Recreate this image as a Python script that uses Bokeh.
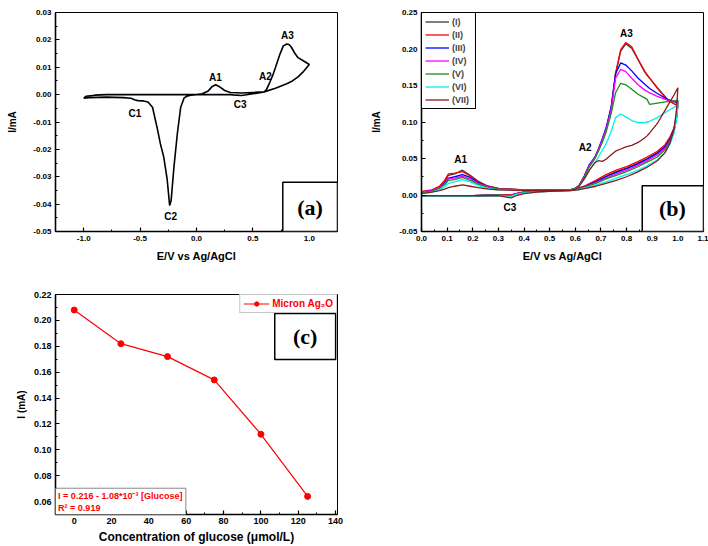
from bokeh.plotting import figure
from bokeh.layouts import column, row
from bokeh.models import Range1d, FixedTicker, PrintfTickFormatter, Label, BoxAnnotation
from bokeh.embed import file_html
from bokeh.resources import INLINE

# ---------------- Panel (a): single CV ----------------
a_fwd_x = [-1.00, -0.98, -0.90, -0.80, -0.50, -0.20, 0.00, 0.05, 0.10, 0.14, 0.17, 0.20, 0.25, 0.30,
           0.40, 0.50, 0.60, 0.62, 0.65, 0.68, 0.70, 0.74, 0.77, 0.80, 0.82, 0.84, 0.87, 0.90, 0.95, 1.00]
a_fwd_y = [-0.0013, -0.0006, -0.0002, 0.0, 0.0, 0.0, 0.0, 0.0003, 0.0012, 0.003, 0.0036, 0.003, 0.0015, 0.0008,
           0.0006, 0.0008, 0.001, 0.0018, 0.0045, 0.0075, 0.0099, 0.0148, 0.0178, 0.0185, 0.0183, 0.0174, 0.0152,
           0.0135, 0.0123, 0.011]
a_rev_x = [0.95, 0.90, 0.85, 0.80, 0.70, 0.60, 0.50, 0.40, 0.35, 0.30, 0.10, 0.00, -0.05, -0.08, -0.11, -0.14,
           -0.17, -0.20, -0.225, -0.238, -0.26, -0.29, -0.32, -0.35, -0.39, -0.43, -0.47, -0.52, -0.55, -0.58,
           -0.65, -0.80, -0.95, -1.00]
a_rev_y = [0.0085, 0.0065, 0.005, 0.004, 0.0023, 0.001, 0.0003, -0.0003, -0.0002, 0.0, 0.0, 0.0, -0.0002, -0.0005,
           -0.0012, -0.0046, -0.0143, -0.0265, -0.0387, -0.0405, -0.031, -0.0229, -0.018, -0.0119, -0.0046, -0.0027,
           -0.0023, -0.0022, -0.0019, -0.0013, -0.0011, -0.0009, -0.0011, -0.0013]
a_xticks = [-1.0, -0.5, 0.0, 0.5, 1.0]
a_xminor = [-1.25, -0.75, -0.25, 0.25, 0.75, 1.25]
a_yticks = [-0.05, -0.04, -0.03, -0.02, -0.01, 0.0, 0.01, 0.02, 0.03]
a_yminor = [-0.045, -0.035, -0.025, -0.015, -0.005, 0.005, 0.015, 0.025]

# ---------------- Panel (b): seven CVs ----------------
XF = [0.00, 0.04, 0.07, 0.09, 0.105, 0.13, 0.16, 0.19, 0.22, 0.26, 0.30, 0.40, 0.50, 0.58, 0.60, 0.615, 0.635,
      0.655, 0.675, 0.69, 0.705, 0.72, 0.74, 0.757, 0.777, 0.797, 0.82, 0.845, 0.87, 0.88, 0.89, 0.92, 0.96, 0.985, 1.00]
XR = [1.00, 0.995, 0.985, 0.97, 0.95, 0.92, 0.88, 0.84, 0.80, 0.76, 0.72, 0.68, 0.64, 0.61, 0.58, 0.50, 0.45,
      0.40, 0.37, 0.35, 0.33, 0.30, 0.20, 0.10, 0.00]

f_I = [0.004, 0.006, 0.011, 0.018, 0.027, 0.029, 0.034, 0.027, 0.019, 0.012, 0.009, 0.007, 0.007, 0.007, 0.009,
       0.013, 0.025, 0.040, 0.050, 0.061, 0.074, 0.089, 0.119, 0.165, 0.197, 0.207, 0.201, 0.185, 0.169, 0.164,
       0.160, 0.147, 0.131, 0.125, 0.122]
f_II = [0.005, 0.007, 0.012, 0.020, 0.029, 0.030, 0.032, 0.026, 0.018, 0.012, 0.009, 0.007, 0.007, 0.007, 0.009,
        0.013, 0.026, 0.041, 0.050, 0.062, 0.075, 0.090, 0.120, 0.167, 0.199, 0.209, 0.203, 0.186, 0.170, 0.165,
        0.160, 0.146, 0.130, 0.125, 0.123]
f_III = [0.004, 0.006, 0.010, 0.016, 0.023, 0.025, 0.028, 0.024, 0.017, 0.011, 0.008, 0.007, 0.007, 0.007, 0.009,
         0.013, 0.026, 0.042, 0.051, 0.063, 0.077, 0.092, 0.121, 0.166, 0.181, 0.178, 0.170, 0.160, 0.152, 0.149,
         0.146, 0.139, 0.131, 0.128, 0.126]
f_IV = [0.004, 0.006, 0.010, 0.015, 0.022, 0.023, 0.026, 0.022, 0.016, 0.011, 0.008, 0.007, 0.007, 0.007, 0.009,
        0.013, 0.025, 0.041, 0.050, 0.062, 0.075, 0.090, 0.117, 0.160, 0.172, 0.169, 0.160, 0.151, 0.144, 0.142,
        0.140, 0.135, 0.130, 0.129, 0.128]
f_V = [0.003, 0.005, 0.009, 0.014, 0.020, 0.021, 0.024, 0.020, 0.015, 0.010, 0.008, 0.007, 0.007, 0.007, 0.009,
       0.013, 0.024, 0.039, 0.049, 0.060, 0.072, 0.086, 0.112, 0.140, 0.153, 0.151, 0.145, 0.138, 0.133, 0.131,
       0.124, 0.126, 0.128, 0.129, 0.130]
f_VI = [0.002, 0.004, 0.007, 0.011, 0.016, 0.018, 0.021, 0.018, 0.013, 0.009, 0.007, 0.006, 0.006, 0.006, 0.008,
        0.012, 0.022, 0.034, 0.043, 0.052, 0.061, 0.070, 0.087, 0.106, 0.111, 0.107, 0.102, 0.099, 0.099, 0.100,
        0.101, 0.106, 0.115, 0.120, 0.124]
f_VII = [0.002, 0.004, 0.006, 0.008, 0.010, 0.012, 0.014, 0.012, 0.010, 0.008, 0.007, 0.006, 0.006, 0.006, 0.008,
         0.012, 0.022, 0.034, 0.044, 0.047, 0.046, 0.049, 0.055, 0.060, 0.063, 0.066, 0.068, 0.072, 0.078, 0.081,
         0.085, 0.098, 0.122, 0.137, 0.147]

r_I = [0.122, 0.106, 0.090, 0.078, 0.067, 0.058, 0.050, 0.043, 0.037, 0.032, 0.026, 0.019, 0.012, 0.009, 0.007,
       0.005, 0.005, 0.004, 0.002, 0.000, 0.000, 0.000, -0.001, -0.001, -0.001]
r_II = [0.123, 0.108, 0.092, 0.080, 0.069, 0.060, 0.052, 0.045, 0.039, 0.034, 0.028, 0.020, 0.013, 0.009, 0.007,
        0.005, 0.005, 0.004, 0.002, 0.000, 0.000, 0.000, -0.001, -0.001, -0.001]
r_III = [0.126, 0.108, 0.090, 0.077, 0.066, 0.057, 0.049, 0.042, 0.036, 0.031, 0.025, 0.018, 0.012, 0.008, 0.007,
         0.005, 0.005, 0.004, 0.002, -0.001, -0.001, 0.000, -0.001, -0.001, -0.001]
r_IV = [0.128, 0.107, 0.088, 0.075, 0.064, 0.055, 0.047, 0.040, 0.034, 0.029, 0.023, 0.017, 0.011, 0.008, 0.007,
        0.005, 0.005, 0.004, 0.002, -0.001, -0.001, 0.000, -0.001, -0.001, -0.001]
r_V = [0.130, 0.106, 0.088, 0.074, 0.062, 0.052, 0.045, 0.038, 0.032, 0.027, 0.022, 0.016, 0.011, 0.008, 0.006,
       0.005, 0.005, 0.004, 0.001, -0.002, -0.001, 0.000, -0.001, -0.001, -0.001]
r_VI = [0.124, 0.104, 0.085, 0.070, 0.058, 0.048, 0.040, 0.033, 0.028, 0.023, 0.018, 0.014, 0.010, 0.007, 0.006,
        0.005, 0.004, 0.003, 0.001, -0.002, -0.002, -0.001, -0.002, -0.002, -0.002]
r_VII = [0.147, 0.118, 0.090, 0.072, 0.058, 0.047, 0.038, 0.031, 0.025, 0.020, 0.016, 0.012, 0.009, 0.007, 0.006,
         0.005, 0.004, 0.002, -0.001, -0.004, -0.003, -0.001, -0.001, -0.001, -0.001]

b_labels = ["(I)", "(II)", "(III)", "(IV)", "(V)", "(VI)", "(VII)"]
b_colors = ["#3a3a3a", "#ff0000", "#0000ff", "#ff00ff", "#1e8c1e", "#00f0f0", "#8b1a1a"]
b_xticks = [0.0, 0.1, 0.2, 0.3, 0.4, 0.5, 0.6, 0.7, 0.8, 0.9, 1.0, 1.1]
b_xminor = [0.05, 0.15, 0.25, 0.35, 0.45, 0.55, 0.65, 0.75, 0.85, 0.95, 1.05]
b_yticks = [-0.05, 0.0, 0.05, 0.10, 0.15, 0.20, 0.25]
b_yminor = [-0.025, 0.025, 0.075, 0.125, 0.175, 0.225]

# ---------------- Panel (c): calibration ----------------
c_conc = [0, 25, 50, 75, 100, 125]
c_current = [0.208, 0.182, 0.172, 0.154, 0.112, 0.064]
c_xticks = [0, 20, 40, 60, 80, 100, 120, 140]
c_xminor = [-10, 10, 30, 50, 70, 90, 110, 130]
c_yticks = [0.06, 0.08, 0.10, 0.12, 0.14, 0.16, 0.18, 0.20, 0.22]
c_yminor = [0.05, 0.07, 0.09, 0.11, 0.13, 0.15, 0.17, 0.19, 0.21]

SANS = "Liberation Sans"
SERIF = "Liberation Serif"


def make_fig(w, h, xr, yr, bl, br, bt, bb):
    p = figure(width=w, height=h, x_range=Range1d(*xr), y_range=Range1d(*yr),
               output_backend="svg", toolbar_location=None,
               min_border_left=bl, min_border_right=br, min_border_top=bt, min_border_bottom=bb)
    p.xgrid.visible = False
    p.ygrid.visible = False
    p.outline_line_color = "black"
    p.outline_line_width = 1
    p.outline_line_alpha = 1
    for ax in (p.xaxis[0], p.yaxis[0]):
        ax.axis_line_width = 1.6
        ax.axis_line_color = "black"
        ax.major_tick_in = 4
        ax.major_tick_out = 0
        ax.minor_tick_in = 2
        ax.minor_tick_out = 0
        ax.major_tick_line_width = 1.2
        ax.major_tick_line_color = "black"
        ax.minor_tick_line_color = "black"
        ax.major_label_text_font = SANS
        ax.major_label_text_font_style = "bold"
        ax.major_label_text_font_size = "8px"
        ax.major_label_text_color = "black"
        ax.major_label_standoff = 4
        ax.axis_label_text_font = SANS
        ax.axis_label_text_font_style = "bold"
        ax.axis_label_text_color = "black"
    return p


def text(p, x, y, s, size="10px", font=SANS, color="black", align="center"):
    p.add_layout(Label(x=x, y=y, text=s, text_font=font, text_font_size=size, text_font_style="bold",
                       text_color=color, text_align=align, text_baseline="middle"))


# ---- (a)
pa = make_fig(355, 268, (-1.25, 1.25), (-0.05, 0.03), 55, 18, 12, 37)
pa.line(a_fwd_x + a_rev_x, a_fwd_y + a_rev_y, line_color="black", line_width=1.6)
pa.xaxis.ticker = FixedTicker(ticks=a_xticks, minor_ticks=a_xminor)
pa.yaxis.ticker = FixedTicker(ticks=a_yticks, minor_ticks=a_yminor)
pa.xaxis.formatter = PrintfTickFormatter(format="%.1f")
pa.yaxis.formatter = PrintfTickFormatter(format="%.2f")
pa.xaxis.axis_label = "E/V vs Ag/AgCl"
pa.yaxis.axis_label = "I/mA"
pa.xaxis.axis_label_text_font_size = "11px"
pa.yaxis.axis_label_text_font_size = "10px"
pa.xaxis.axis_label_standoff = 6
pa.yaxis.axis_label_standoff = 12
for s, x, y in [("A1", 0.168, 0.0063), ("A2", 0.61, 0.0066), ("A3", 0.806, 0.0215),
                ("C1", -0.547, -0.007), ("C2", -0.23, -0.0445), ("C3", 0.388, -0.0036)]:
    text(pa, x, y, s)
pa.add_layout(BoxAnnotation(left=0.765, right=1.25, bottom=-0.05, top=-0.032, fill_color="white",
                            fill_alpha=1, line_color="black", line_width=1.5, line_alpha=1))
text(pa, 1.006, -0.0412, "(a)", size="22px", font=SERIF)

# ---- (b)
pb = make_fig(353, 268, (0.0, 1.1), (-0.05, 0.25), 66, 5, 12, 37)
fwd = [f_I, f_II, f_III, f_IV, f_V, f_VI, f_VII]
rev = [r_I, r_II, r_III, r_IV, r_V, r_VI, r_VII]
for lab, col, fy, ry in zip(b_labels, b_colors, fwd, rev):
    pb.line(XF + XR, fy + ry, line_color=col, line_width=1.3, legend_label=lab)
pb.xaxis.ticker = FixedTicker(ticks=b_xticks, minor_ticks=b_xminor)
pb.yaxis.ticker = FixedTicker(ticks=b_yticks, minor_ticks=b_yminor)
pb.xaxis.formatter = PrintfTickFormatter(format="%.1f")
pb.yaxis.formatter = PrintfTickFormatter(format="%.2f")
pb.xaxis.axis_label = "E/V vs Ag/AgCl"
pb.yaxis.axis_label = "I/mA"
pb.xaxis.axis_label_text_font_size = "11px"
pb.yaxis.axis_label_text_font_size = "10px"
pb.xaxis.axis_label_standoff = 6
pb.yaxis.axis_label_standoff = 14
lg = pb.legend[0]
lg.location = "top_left"
lg.margin = 0
lg.padding = 3
lg.spacing = 2
lg.glyph_width = 24
lg.glyph_height = 11
lg.label_height = 11
lg.label_standoff = 3
lg.label_text_font = SANS
lg.label_text_font_style = "bold"
lg.label_text_font_size = "9px"
lg.border_line_color = "black"
lg.border_line_width = 1
lg.border_line_alpha = 1
lg.background_fill_alpha = 1
for s, x, y in [("A1", 0.153, 0.048), ("A2", 0.638, 0.065), ("A3", 0.799, 0.221), ("C3", 0.345, -0.017)]:
    text(pb, x, y, s)
pb.add_layout(BoxAnnotation(left=0.861, right=1.1, bottom=-0.05, top=0.0127, fill_color="white",
                            fill_alpha=1, line_color="black", line_width=1.5, line_alpha=1))
text(pb, 0.979, -0.0185, "(b)", size="22px", font=SERIF)

# ---- (c)
pc = make_fig(355, 278, (-10, 141), (0.05, 0.22), 55, 18, 26, 31)
pc.line(c_conc, c_current, line_color="red", line_width=1.2, legend_label="Micron Ag\u2082O")
pc.scatter(c_conc, c_current, marker="circle", size=6, fill_color="red", line_color="red",
           legend_label="Micron Ag\u2082O")
pc.xaxis.ticker = FixedTicker(ticks=c_xticks, minor_ticks=c_xminor)
pc.yaxis.ticker = FixedTicker(ticks=c_yticks, minor_ticks=c_yminor)
pc.xaxis.formatter = PrintfTickFormatter(format="%d")
pc.yaxis.formatter = PrintfTickFormatter(format="%.2f")
pc.xaxis.major_label_text_font_size = "9px"
pc.yaxis.major_label_text_font_size = "9px"
pc.xaxis.axis_label = "Concentration of glucose (\u03bcmol/L)"
pc.yaxis.axis_label = "I (mA)"
pc.xaxis.axis_label_text_font_size = "12px"
pc.yaxis.axis_label_text_font_size = "10px"
pc.xaxis.axis_label_standoff = 3
pc.xaxis.major_label_standoff = 3
pc.yaxis.axis_label_standoff = 4
lc = pc.legend[0]
lc.location = "top_right"
lc.margin = 0
lc.padding = 3
lc.spacing = 0
lc.glyph_width = 26
lc.glyph_height = 11
lc.label_height = 11
lc.label_standoff = 3
lc.label_text_font = SANS
lc.label_text_font_style = "bold"
lc.label_text_font_size = "10px"
lc.label_text_color = "red"
lc.border_line_color = "#888888"
lc.border_line_width = 1
lc.background_fill_alpha = 1
pc.add_layout(BoxAnnotation(left=107.4, right=140, bottom=0.1698, top=0.2053, fill_color="white",
                            fill_alpha=1, line_color="black", line_width=1.5, line_alpha=1))
text(pc, 123.7, 0.1878, "(c)", size="22px", font=SERIF)
pc.add_layout(BoxAnnotation(left=-10, right=59.8, bottom=0.05, top=0.0703, fill_color="white",
                            fill_alpha=1, line_color="#888888", line_width=1, line_alpha=1))
text(pc, -8.6, 0.0645, "I = 0.216 - 1.08*10\u207b\u00b3 [Glucose]", size="9px", color="red", align="left")
text(pc, -8.6, 0.0552, "R\u00b2 = 0.919", size="9px", color="red", align="left")

layout = column(row(pa, pb), pc)
open("out.html", "w").write(file_html(layout, INLINE))
